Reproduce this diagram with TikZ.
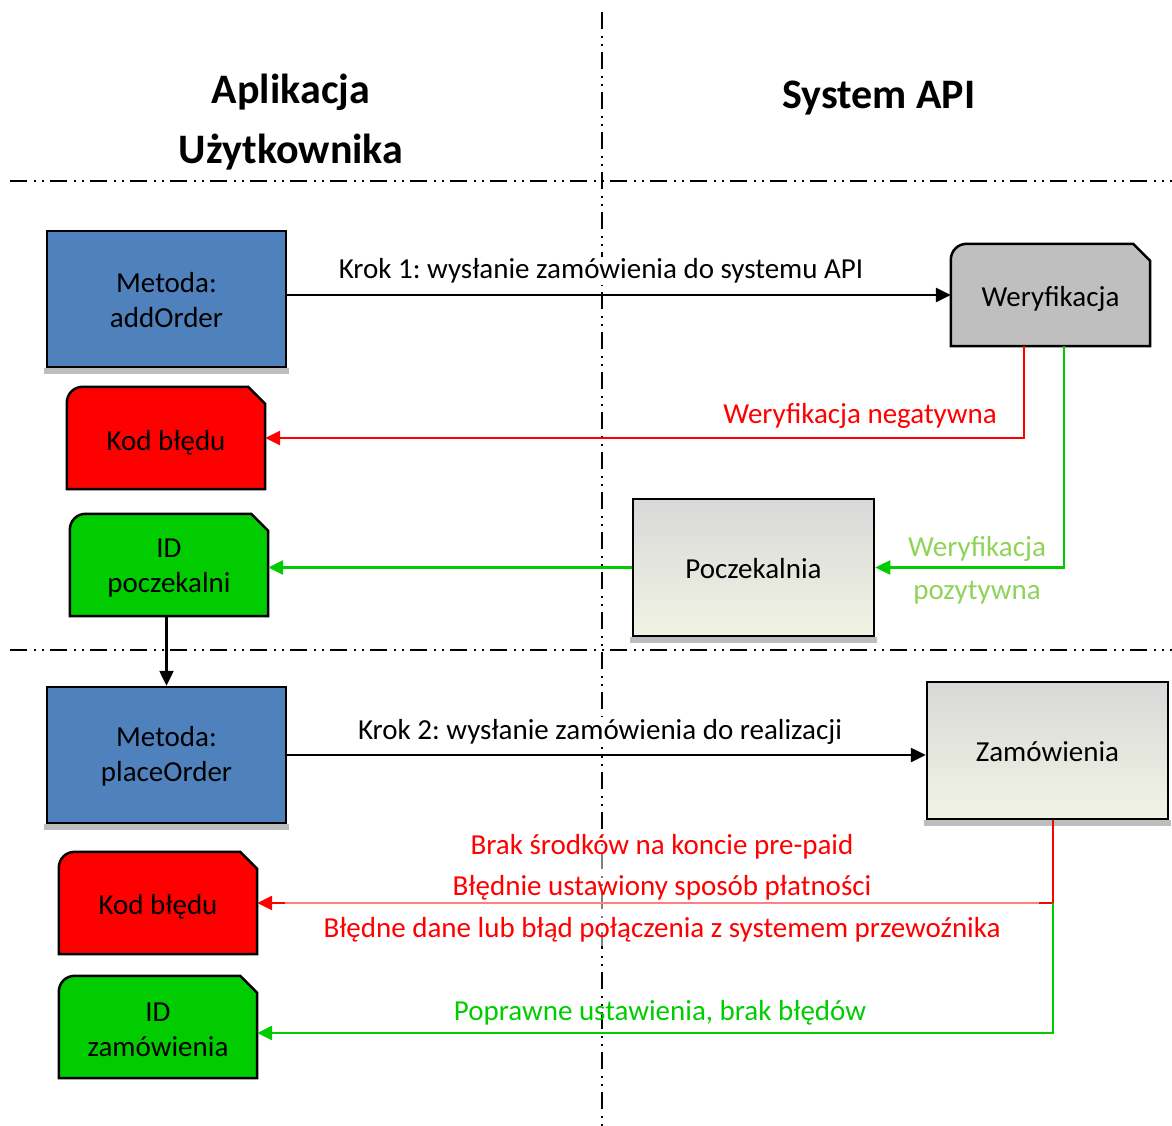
\documentclass[tikz,border=0pt]{standalone}
\usepackage{fontspec}
\setmainfont{Carlito}
\frenchspacing
\usetikzlibrary{arrows.meta,backgrounds,calc}
\definecolor{boxblue}{HTML}{4F81BD}
\definecolor{boxred}{HTML}{FF0000}
\definecolor{boxgreen}{HTML}{00CC00}
\definecolor{boxgray}{HTML}{BFBFBF}
\definecolor{gradtop}{HTML}{D8D8D8}
\definecolor{gradbot}{HTML}{F0F4E4}
\definecolor{lightgreen}{HTML}{8FD35A}
\definecolor{shadowgray}{HTML}{BDBDBD}
\newcommand\dn[2][3pt]{\raisebox{-#1}[\height][\depth]{#2}}
\newcommand\tagshape[2]{%
  \path[draw=black, line width=2.5pt, fill=#2, line join=miter]
    (#1.south west) -- ([yshift=-16pt]#1.north west)
    .. controls ([yshift=-7pt]#1.north west) and ([xshift=7pt]#1.north west) .. ([xshift=16pt]#1.north west)
    -- ([xshift=-17pt]#1.north east) -- ([yshift=-17pt]#1.north east)
    -- (#1.south east) -- cycle;}
\newcommand\boxshadow[1]{%
  \fill[shadowgray] ([xshift=-2pt]#1.south west) rectangle ([xshift=2pt,yshift=-6pt]#1.south east);}
\begin{document}
\begin{tikzpicture}[x=1pt,y=-1pt,
  every node/.style={font=\fontsize{29}{35}\selectfont},
  rectbox/.style={draw=black, line width=2.5pt, align=center, inner sep=0pt},
  tagnode/.style={align=center, inner sep=0pt, minimum width=198pt, minimum height=102pt},
  titletext/.style={font=\fontsize{42}{60}\selectfont\bfseries, align=center},
  lab/.style={fill=white, inner sep=2pt},
  divider/.style={line width=2.3pt, dash pattern=on 17pt off 7pt on 2pt off 6pt on 2pt off 6pt},
  conn/.style={line width=2.5pt, -{Triangle[length=15pt,width=14pt]}},
]
\useasboundingbox (0,0) rectangle (1172,1126);

% titles
\node[titletext] (t1) at (291,122.5) {Aplikacja\\Użytkownika};
\node[titletext] (t2) at (879,98) {System API};

% boxes
\node[rectbox, fill=boxblue, minimum width=239pt, minimum height=136pt] (add) at (166.5,299) {\dn[1pt]{Metoda:}\\\dn[1pt]{addOrder}};
\node[tagnode] (kod1) at (166,438) {\dn[4.5pt]{Kod błędu}};
\node[tagnode] (id1) at (169,565) {\dn{ID}\\\dn{poczekalni}};
\node[tagnode, minimum width=199pt] (ver) at (1050.5,295) {\dn[4pt]{Weryfikacja}};
\node[rectbox, top color=gradtop, bottom color=gradbot, minimum width=241pt, minimum height=137pt] (pocz) at (753.5,567.5) {\dn[1pt]{Poczekalnia}};
\node[rectbox, fill=boxblue, minimum width=239pt, minimum height=136pt] (pl) at (166.5,755) {\dn[1.5pt]{Metoda:}\\\dn[1.5pt]{placeOrder}};
\node[rectbox, top color=gradtop, bottom color=gradbot, minimum width=241pt, minimum height=137pt] (zam) at (1047.5,750.5) {\dn[1pt]{Zamówienia}};
\node[tagnode] (kod2) at (158,903) {\dn[4pt]{Kod błędu}};
\node[tagnode] (id2) at (158,1027) {\dn{ID}\\\dn{zamówienia}};

\begin{scope}[on background layer]
  \draw[divider] (602,12) -- (602,1126);
  \draw[divider] (10,181) -- (1172,181);
  \draw[divider] (10,650) -- (1172,650);
  \boxshadow{add}
  \boxshadow{pl}
  \boxshadow{pocz}
  \boxshadow{zam}
  \tagshape{kod1}{boxred}
  \tagshape{id1}{boxgreen}
  \tagshape{ver}{boxgray}
  \tagshape{kod2}{boxred}
  \tagshape{id2}{boxgreen}
\end{scope}

% helper coordinates
\coordinate (vr) at ([xshift=-26.5pt]ver.south);
\coordinate (vg) at ([xshift=13.5pt]ver.south);
\coordinate (zb) at ([xshift=5.5pt]zam.south);
\coordinate (zc) at (zb |- kod2.east);
\coordinate (ide) at ([yshift=-6pt]id2.east);

% connectors
\draw[conn] (ver.west -| add.east) -- (ver.west);
\draw[conn, boxred] (vr) |- (kod1.east);
\draw[conn, boxgreen] (vg) |- (pocz.east);
\draw[conn, boxgreen] (pocz.west) -- (pocz.west -| id1.east);
\draw[conn] (id1.south -| pl.north) -- (pl.north);
\draw[conn] (pl.east) -- (pl.east -| zam.west);
\draw[conn, boxred] (zb) |- (kod2.east);
\draw[conn, boxgreen] (zc) |- (ide);

% labels
\node[lab] (k1) at (601,271) {Krok 1: wysłanie zamówienia do systemu API};
\node[text=boxred] (neg) at (860,416) {Weryfikacja negatywna};
\node[text=lightgreen, align=center, font=\fontsize{29}{43}\selectfont] (poz) at (977,570) {Weryfikacja\\pozytywna};
\node[lab] (k2) at (600,732) {Krok 2: wysłanie zamówienia do realizacji};
\node[fill=white, fill opacity=0.5, text opacity=1, text=boxred, align=center, minimum width=754pt, inner sep=4pt, font=\fontsize{29}{41.5}\selectfont] (err) at (662,888) {Brak środków na koncie pre-paid\\Błędnie ustawiony sposób płatności\\Błędne dane lub błąd połączenia z systemem przewoźnika};
\node[text=boxgreen] (ok) at (660,1013) {Poprawne ustawienia, brak błędów};
\end{tikzpicture}
\end{document}
